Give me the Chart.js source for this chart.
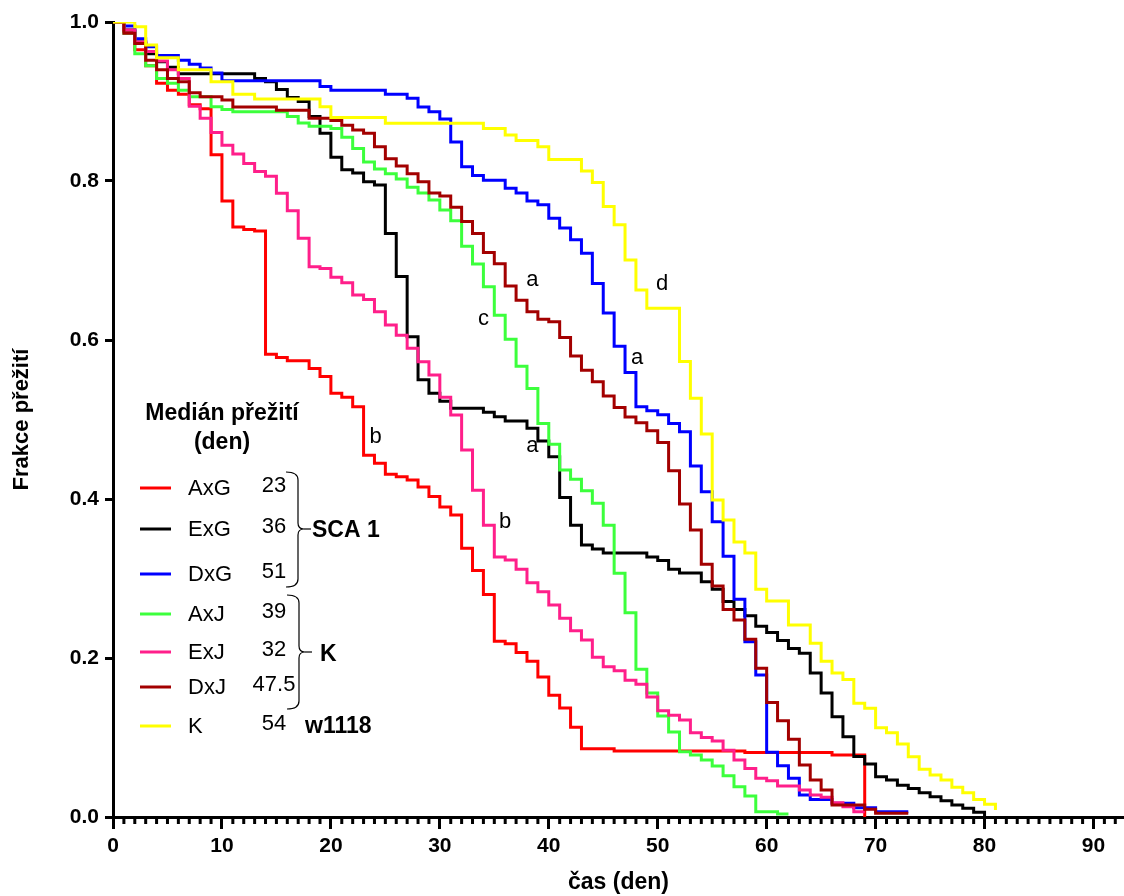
<!DOCTYPE html>
<html>
<head>
<meta charset="utf-8">
<script src="https://cdn.jsdelivr.net/npm/chart.js@4/dist/chart.umd.min.js"></script>
<style>
  html, body { margin: 0; padding: 0; background: #fff; }
  #wrap { width: 1124px; height: 896px; }
</style>
</head>
<body>
<div id="wrap"><canvas id="survChart" width="1124" height="896"></canvas></div>
<script>
// čas (den) a frakce přežití pro každou skupinu
const axgT = [0, 1, 2, 3, 4, 5, 6, 7, 8, 9, 10, 11, 12, 13, 14, 15, 16, 18, 19, 20, 21, 22, 23, 24, 25, 26, 27, 28, 29, 30, 31, 32, 33, 34, 35, 36, 37, 38, 39, 40, 41, 42, 43, 46, 58, 66, 69];
const axgS = [1, 0.988, 0.965, 0.945, 0.923, 0.914, 0.909, 0.896, 0.891, 0.833, 0.775, 0.742, 0.739, 0.737, 0.582, 0.578, 0.574, 0.564, 0.554, 0.533, 0.528, 0.516, 0.455, 0.445, 0.431, 0.428, 0.424, 0.415, 0.403, 0.390, 0.380, 0.338, 0.310, 0.280, 0.221, 0.218, 0.207, 0.196, 0.176, 0.153, 0.137, 0.113, 0.086, 0.083, 0.081, 0.078, 0];

const exgT = [0, 1, 2, 3, 4, 5, 6, 13, 14, 15, 16, 17, 18, 19, 20, 21, 22, 23, 24, 25, 26, 27, 28, 29, 30, 31, 34, 35, 36, 38, 39, 40, 41, 42, 43, 44, 45, 49, 50, 51, 52, 54, 55, 56, 57, 58, 59, 60, 61, 62, 63, 64, 65, 66, 67, 68, 69, 70, 71, 72, 73, 74, 75, 76, 77, 78, 79, 80];
const exgS = [1, 0.99, 0.975, 0.96, 0.95, 0.943, 0.935, 0.929, 0.925, 0.915, 0.905, 0.900, 0.881, 0.860, 0.830, 0.814, 0.810, 0.799, 0.795, 0.734, 0.680, 0.604, 0.550, 0.533, 0.523, 0.514, 0.509, 0.5035, 0.498, 0.489, 0.473, 0.453, 0.402, 0.367, 0.342, 0.337, 0.332, 0.327, 0.3225, 0.3115, 0.307, 0.296, 0.2865, 0.271, 0.261, 0.253, 0.240, 0.232, 0.222, 0.212, 0.206, 0.181, 0.156, 0.126, 0.101, 0.076, 0.0667, 0.0507, 0.0465, 0.040, 0.036, 0.0306, 0.0255, 0.0205, 0.015, 0.011, 0.006, 0];

const dxgT = [0, 1, 2, 3, 4, 6, 7, 8, 9, 10, 19, 20, 25, 27, 28, 29, 30, 31, 32, 33, 34, 36, 37, 38, 39, 40, 41, 42, 43, 44, 45, 46, 47, 48, 49, 50, 51, 52, 53, 54, 55, 56, 57, 58, 59, 60, 61, 62, 63, 64, 66, 68, 70, 73];
const dxgS = [1, 0.995, 0.979, 0.969, 0.958, 0.952, 0.947, 0.942, 0.936, 0.926, 0.919, 0.914, 0.909, 0.904, 0.893, 0.887, 0.878, 0.849, 0.818, 0.807, 0.801, 0.791, 0.785, 0.775, 0.770, 0.753, 0.741, 0.726, 0.709, 0.671, 0.634, 0.592, 0.559, 0.516, 0.511, 0.506, 0.495, 0.4846, 0.4415, 0.409, 0.3715, 0.328, 0.274, 0.2205, 0.1786, 0.0814, 0.0645, 0.0487, 0.0277, 0.022, 0.0172, 0.0117, 0.0067, 0.0067];

const axjT = [0, 1, 2, 3, 4, 5, 6, 7, 9, 10, 11, 16, 17, 18, 20, 21, 22, 23, 24, 25, 26, 27, 28, 29, 30, 31, 32, 33, 34, 35, 36, 37, 38, 39, 40, 41, 42, 43, 44, 45, 46, 47, 48, 49, 50, 51, 52, 53, 54, 55, 56, 57, 58, 59, 61, 62];
const axjS = [1, 0.986, 0.96, 0.945, 0.929, 0.923, 0.914, 0.906, 0.8935, 0.890, 0.887, 0.881, 0.873, 0.869, 0.866, 0.855, 0.841, 0.824, 0.815, 0.809, 0.8025, 0.792, 0.785, 0.776, 0.7635, 0.750, 0.718, 0.6956, 0.667, 0.631, 0.601, 0.567, 0.539, 0.495, 0.469, 0.4365, 0.425, 0.4105, 0.3946, 0.367, 0.3065, 0.257, 0.186, 0.156, 0.127, 0.107, 0.082, 0.078, 0.0717, 0.064, 0.052, 0.038, 0.0264, 0.0067, 0.0038, 0.0038];

const exjT = [0, 1, 2, 3, 4, 5, 6, 7, 8, 9, 10, 11, 12, 13, 14, 15, 16, 17, 18, 19, 20, 21, 22, 23, 24, 25, 26, 27, 28, 29, 30, 31, 32, 33, 34, 35, 36, 37, 38, 39, 40, 41, 42, 43, 44, 45, 46, 47, 48, 49, 50, 51, 52, 53, 54, 55, 56, 57, 58, 59, 60, 61, 63, 64, 65, 66, 67, 68, 69];
const exjS = [1, 0.99, 0.975, 0.963, 0.951, 0.940, 0.929, 0.894, 0.879, 0.861, 0.845, 0.834, 0.822, 0.812, 0.806, 0.7845, 0.7626, 0.728, 0.692, 0.690, 0.679, 0.672, 0.6566, 0.651, 0.6356, 0.619, 0.606, 0.5896, 0.5727, 0.556, 0.528, 0.5057, 0.4616, 0.411, 0.367, 0.327, 0.3233, 0.3115, 0.2947, 0.2834, 0.2667, 0.25, 0.2344, 0.2226, 0.2009, 0.189, 0.184, 0.172, 0.167, 0.151, 0.1337, 0.128, 0.122, 0.106, 0.100, 0.0956, 0.084, 0.0717, 0.061, 0.0487, 0.0457, 0.039, 0.034, 0.0277, 0.0248, 0.018, 0.013, 0.0067, 0.0067];

const dxjT = [0, 1, 2, 3, 4, 5, 6, 7, 8, 10, 11, 15, 18, 20, 21, 22, 23, 24, 25, 26, 27, 28, 29, 30, 31, 32, 33, 34, 35, 36, 37, 38, 39, 40, 41, 42, 43, 44, 45, 46, 47, 48, 49, 50, 51, 52, 53, 54, 55, 56, 57, 58, 59, 60, 61, 62, 63, 64, 65, 66, 69, 70, 73];
const dxjS = [1, 0.986, 0.973, 0.952, 0.940, 0.929, 0.925, 0.911, 0.906, 0.902, 0.893, 0.889, 0.879, 0.876, 0.870, 0.864, 0.860, 0.843, 0.828, 0.819, 0.809, 0.799, 0.785, 0.781, 0.767, 0.749, 0.734, 0.710, 0.696, 0.668, 0.650, 0.6356, 0.626, 0.623, 0.603, 0.580, 0.562, 0.5475, 0.5296, 0.515, 0.503, 0.496, 0.486, 0.471, 0.4356, 0.3937, 0.361, 0.318, 0.2906, 0.261, 0.2478, 0.2235, 0.187, 0.144, 0.121, 0.0977, 0.0654, 0.0465, 0.034, 0.015, 0.0097, 0.0046, 0.0046];

const kT = [0, 2, 3, 4, 6, 9, 11, 13, 19, 20, 25, 34, 36, 37, 39, 40, 43, 44, 45, 46, 47, 48, 49, 52, 53, 54, 55, 56, 57, 58, 59, 60, 62, 64, 65, 66, 67, 68, 69, 70, 71, 72, 73, 74, 75, 76, 77, 78, 79, 80, 81];
const kS = [1, 0.994, 0.971, 0.955, 0.940, 0.925, 0.909, 0.903, 0.8935, 0.880, 0.8726, 0.866, 0.858, 0.851, 0.843, 0.827, 0.8126, 0.798, 0.768, 0.745, 0.7006, 0.663, 0.640, 0.573, 0.5266, 0.4818, 0.3987, 0.3736, 0.346, 0.332, 0.2865, 0.2717, 0.2415, 0.2185, 0.196, 0.181, 0.173, 0.143, 0.1367, 0.1123, 0.106, 0.0918, 0.0758, 0.06, 0.0528, 0.0465, 0.0374, 0.0306, 0.022, 0.016, 0.0088, 0];

const groupNames = ["AxG", "ExG", "DxG", "AxJ", "ExJ", "DxJ", "K"];
const groupMedians = ["23", "36", "51", "39", "32", "47.5", "54"];
const groupColors = ["#ff0000", "#000000", "#0000ff", "#3cff3c", "#ff1f8a", "#a30000", "#ffff00"];

const xTicks = [0, 10, 20, 30, 40, 50, 60, 70, 80, 90];
const yTicks = [0, 0.2, 0.4, 0.6, 0.8, 1.0];

// písmena u křivek (den, frakce)
const letterText = ["b", "a", "c", "a", "d", "a", "b"];
const letterT = [24.1, 38.5, 34.0, 48.1, 50.4, 38.5, 36.0];
const letterS = [0.478, 0.676, 0.627, 0.578, 0.670, 0.467, 0.371];

const FONT = "'Liberation Sans', Arial, sans-serif";

function toPoints(ts, ss) {
  return ts.map((t, i) => ({ x: t, y: ss[i] }));
}

const series = [
  [axgT, axgS], [exgT, exgS], [dxgT, dxgS], [axjT, axjS],
  [exjT, exjS], [dxjT, dxjS], [kT, kS],
];

// kreslení malých značek na ose x, písmen a legendy
const extrasPlugin = {
  id: "extras",
  afterDraw(chart) {
    const ctx = chart.ctx;
    const xs = chart.scales.x;
    const ys = chart.scales.y;
    const area = chart.chartArea;
    ctx.save();

    // vedlejší značky po 1 dni
    ctx.fillStyle = "#000";
    for (let d = 0; d <= 92; d++) {
      if (d % 10 === 0) continue;
      const px = xs.getPixelForValue(d);
      ctx.fillRect(px - 1.5, area.bottom, 3, 7);
    }

    // písmena
    ctx.font = "22px " + FONT;
    ctx.textAlign = "center";
    ctx.textBaseline = "middle";
    letterText.forEach((s, i) => {
      ctx.fillText(s, xs.getPixelForValue(letterT[i]), ys.getPixelForValue(letterS[i]));
    });

    // legenda
    ctx.font = "bold 23px " + FONT;
    ctx.fillText("Medián přežití", 222, 414);
    ctx.fillText("(den)", 222, 443);

    const rowY = [488, 529, 574, 614, 652, 687, 726];
    groupNames.forEach((name, i) => {
      ctx.strokeStyle = groupColors[i];
      ctx.lineWidth = 3;
      ctx.beginPath();
      ctx.moveTo(140, rowY[i]);
      ctx.lineTo(171, rowY[i]);
      ctx.stroke();
      ctx.fillStyle = "#000";
      ctx.font = "22px " + FONT;
      ctx.textAlign = "left";
      ctx.fillText(name, 188, rowY[i] + 1);
      ctx.textAlign = "center";
      ctx.fillText(groupMedians[i], 274, rowY[i] - 2);
    });

    function brace(top, bottom, x, tipY) {
      ctx.strokeStyle = "#000";
      ctx.lineWidth = 1.2;
      ctx.beginPath();
      ctx.moveTo(x - 12, top);
      ctx.quadraticCurveTo(x, top, x, top + 8);
      ctx.lineTo(x, tipY - 6);
      ctx.quadraticCurveTo(x, tipY, x + 6, tipY);
      ctx.quadraticCurveTo(x, tipY, x, tipY + 6);
      ctx.lineTo(x, bottom - 8);
      ctx.quadraticCurveTo(x, bottom, x - 12, bottom);
      ctx.stroke();
      ctx.beginPath();
      ctx.moveTo(x + 6, tipY);
      ctx.lineTo(x + 13, tipY);
      ctx.stroke();
    }
    brace(472, 587, 298, 529);
    brace(595, 709, 299, 652);

    ctx.font = "bold 23px " + FONT;
    ctx.textAlign = "left";
    ctx.fillText("SCA 1", 312, 531);
    ctx.fillText("K", 320, 655);
    ctx.fillText("w1118", 305, 727);

    ctx.restore();
  },
};

new Chart(document.getElementById("survChart").getContext("2d"), {
  type: "line",
  data: {
    datasets: series.map(([ts, ss], i) => ({
      label: groupNames[i],
      data: toPoints(ts, ss),
      borderColor: groupColors[i],
      borderWidth: 3,
      pointRadius: 0,
      stepped: true,
      fill: false,
    })).reverse(),
  },
  options: {
    responsive: false,
    animation: false,
    layout: { padding: { top: 22, right: 0, left: 0, bottom: 0 } },
    plugins: { legend: { display: false }, tooltip: { enabled: false } },
    scales: {
      x: {
        type: "linear",
        min: 0,
        max: 92.8,
        afterBuildTicks: (s) => { s.ticks = xTicks.map((v) => ({ value: v })); },
        afterFit: (s) => { s.height = 79; },
        ticks: {
          color: "#000",
          padding: 5,
          maxRotation: 0,
          font: { family: FONT, size: 21, weight: "bold" },
        },
        grid: { drawOnChartArea: false, drawTicks: true, tickLength: 12, tickWidth: 3, tickColor: "#000" },
        border: { display: true, color: "#000", width: 3 },
        title: {
          display: true,
          text: "čas (den)",
          color: "#000",
          padding: { top: 0, bottom: 0 },
          font: { family: FONT, size: 23, weight: "bold" },
        },
      },
      y: {
        type: "linear",
        min: 0,
        max: 1,
        afterBuildTicks: (s) => { s.ticks = yTicks.map((v) => ({ value: v })); },
        afterFit: (s) => { s.width = 113; },
        ticks: {
          color: "#000",
          padding: 6,
          callback: (v) => v.toFixed(1),
          font: { family: FONT, size: 21, weight: "bold" },
        },
        grid: { drawOnChartArea: false, drawTicks: true, tickLength: 8, tickWidth: 3, tickColor: "#000" },
        border: { display: true, color: "#000", width: 3 },
        title: {
          display: true,
          text: "Frakce přežití",
          color: "#000",
          padding: { top: 9, bottom: 0 },
          font: { family: FONT, size: 22, weight: "bold" },
        },
      },
    },
  },
  plugins: [extrasPlugin],
});
</script>
</body>
</html>
